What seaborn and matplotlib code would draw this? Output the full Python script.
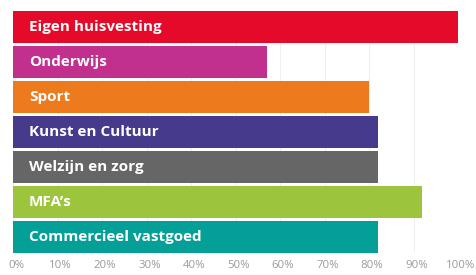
import matplotlib
matplotlib.use("Agg")
import matplotlib.pyplot as plt
import matplotlib.transforms as mtransforms
import seaborn as sns
import pandas as pd

categories = ["Eigen huisvesting", "Onderwijs", "Sport", "Kunst en Cultuur",
              "Welzijn en zorg", "MFA\u2019s", "Commercieel vastgoed"]
values = [100, 57, 80, 82, 82, 92, 82]
colors = ["#E5092A", "#C0308C", "#EE7A1E", "#463A8C", "#666666", "#9CC43C", "#04A097"]
tick_values = [0, 10, 20, 30, 40, 50, 60, 70, 80, 90, 100]
tick_labels = [f"{v}%" for v in tick_values]

df = pd.DataFrame({"cat": categories, "val": values})

sns.set_theme(style="white")
plt.rcParams["font.family"] = ["Open Sans", "DejaVu Sans"]

fig = plt.figure(figsize=(4.76, 2.75), dpi=100)
ax = fig.add_axes([13 / 476, 22 / 275, 445 / 476, 242 / 275])

sns.barplot(data=df, x="val", y="cat", hue="cat", palette=colors, orient="h",
            width=0.9, legend=False, ax=ax, saturation=1, linewidth=0)

ax.set_xlim(0, 100)
ax.set_ylim(6.45, -0.45)
ax.set_xticks(tick_values)
ax.set_xticklabels(tick_labels, fontsize=8.2, color="#9a9a9a")
ax.set_yticks([])
ax.set_xlabel("")
ax.set_ylabel("")
ax.xaxis.grid(True, color="#efefef", linewidth=0.8)
ax.set_axisbelow(True)
ax.tick_params(axis="x", length=0, pad=5)
for s in ax.spines.values():
    s.set_visible(False)

offset = mtransforms.ScaledTranslation(3 / 100, 0, fig.dpi_scale_trans)
for lbl in ax.get_xticklabels():
    lbl.set_transform(lbl.get_transform() + offset)

for i, cat in enumerate(categories):
    ax.text(3.6, i, cat, color="white", fontsize=11, fontweight="bold",
            va="center", ha="left")

fig.savefig("out.png", dpi=100)
